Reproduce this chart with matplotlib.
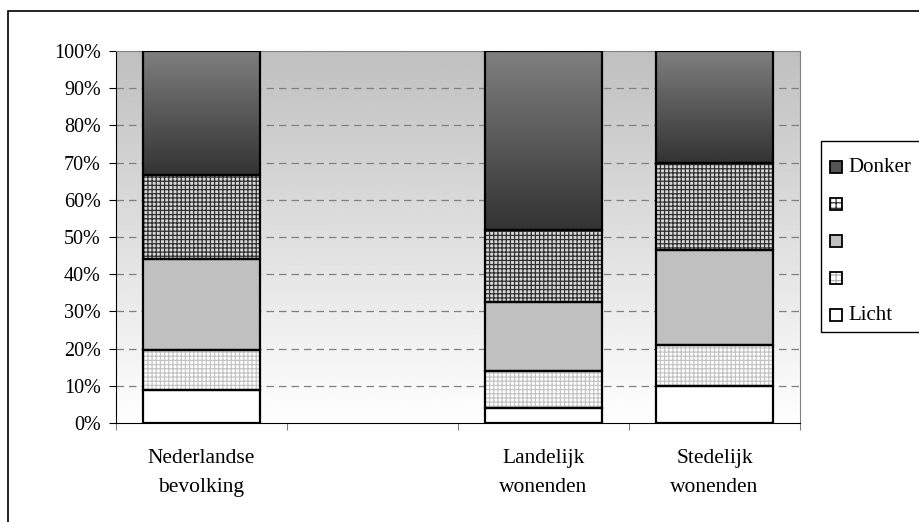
import matplotlib
matplotlib.use("Agg")
import matplotlib.pyplot as plt
import numpy as np
from matplotlib.patches import Rectangle

plt.rcParams['font.family'] = ['Liberation Serif', 'DejaVu Serif']
plt.rcParams['hatch.linewidth'] = 0.9

# data (percent, stacked from bottom)
categories = ['Nederlandse\nbevolking', '', 'Landelijk\nwonenden', 'Stedelijk\nwonenden']
positions = [0, 1, 2, 3]
bar_cats = [0, 2, 3]
licht = [9.0, 4.0, 10.0]
licht_hatch = [10.7, 9.9, 10.9]
midden = [24.3, 18.7, 25.6]
donker_hatch = [22.6, 19.4, 23.3]
donker = [33.4, 48.0, 30.2]
legend_labels = ['Donker', '', '', '', 'Licht']

fig = plt.figure(figsize=(9.2, 5.22), dpi=100)
ax = fig.add_axes([116 / 920, (522 - 423) / 522, 684 / 920, 372 / 522])

# gradient background of the plot area
bg = np.linspace(0.75, 1.0, 256).reshape(-1, 1)
ax.imshow(bg, extent=[-0.5, 3.5, 0, 100], aspect='auto', cmap='gray',
          vmin=0, vmax=1, origin='upper', zorder=0)

for y in range(10, 100, 10):
    ax.axhline(y, color='#808080', lw=0.9, ls=(0, (6, 4)), zorder=1)

w = 0.68
series = [licht, licht_hatch, midden, donker_hatch, donker]
styles = [
    dict(color='white', hatch=None, hc=None),
    dict(color='white', hatch='++++', hc='#c4c4c4'),
    dict(color='#c0c0c0', hatch=None, hc=None),
    dict(color='#d8d8d8', hatch='++++', hc='#303030'),
    dict(color=None, hatch=None, hc=None),
]
bottoms = np.zeros(len(bar_cats))
for vals, st in zip(series, styles):
    vals = np.array(vals)
    if st['color'] is not None:
        ax.bar(bar_cats, vals, w, bottom=bottoms, color=st['color'],
               edgecolor=st['hc'] if st['hc'] else 'none', hatch=st['hatch'],
               linewidth=0, zorder=2)
    else:
        dk = np.linspace(0.5, 0.2, 256).reshape(-1, 1)
        for x, b, v in zip(bar_cats, bottoms, vals):
            ax.imshow(dk, extent=[x - w / 2, x + w / 2, b, b + v],
                      aspect='auto', cmap='gray', vmin=0, vmax=1,
                      origin='upper', zorder=2)
    ax.bar(bar_cats, vals, w, bottom=bottoms, fill=False, edgecolor='black',
           linewidth=1.6, zorder=3)
    bottoms = bottoms + vals

ax.set_xlim(-0.5, 3.5)
ax.set_ylim(0, 100)
ax.set_yticks(range(0, 101, 10))
ax.set_yticklabels([f'{v}%' for v in range(0, 101, 10)])
ax.set_xticks([-0.5, 0.5, 1.5, 2.5, 3.5])
ax.set_xticklabels([])
ax.set_xticks(positions, minor=True)
ax.set_xticklabels(categories, minor=True, linespacing=1.7)
ax.tick_params(axis='x', which='minor', length=0, pad=19, labelsize=15.5)
ax.tick_params(axis='x', which='major', length=5, color='#808080', direction='out')
ax.tick_params(axis='y', length=5, labelsize=14.5, color='black', pad=6)
for s in ['top', 'right']:
    ax.spines[s].set_color('#808080')
ax.spines['left'].set_color('black')
ax.spines['bottom'].set_color('black')

# figure frame
fig.patches.append(Rectangle((8 / 920, -0.1), 1.2, (522 - 11) / 522 + 0.1,
                             transform=fig.transFigure, fill=False,
                             edgecolor='black', lw=1.2))

# legend frame and entries
fig.patches.append(Rectangle((821 / 920, (522 - 332) / 522), 0.2, 191 / 522,
                             transform=fig.transFigure, fill=False,
                             edgecolor='black', lw=1.0))
leg_fc = ['#555555', 'white', '#c0c0c0', 'white', 'white']
leg_hatch = [None, '+++', None, '+++', None]
leg_hc = [None, '#303030', None, '#b0b0b0', None]
for i, (lab, fc, h, hc) in enumerate(zip(legend_labels, leg_fc, leg_hatch, leg_hc)):
    yc = 167 + i * 37
    box = ((830 / 920, (522 - yc - 6) / 522), 12 / 920, 12 / 522)
    if h:
        fig.patches.append(Rectangle(*box, transform=fig.transFigure, facecolor=fc,
                                     edgecolor=hc, lw=0, hatch=h))
        fc = 'none'
    fig.patches.append(Rectangle(*box, transform=fig.transFigure, facecolor=fc,
                                 edgecolor='black', lw=1.3))
    fig.text(848 / 920, (522 - yc) / 522, lab, fontsize=15, va='center', ha='left')

fig.savefig('out.png', dpi=100)
